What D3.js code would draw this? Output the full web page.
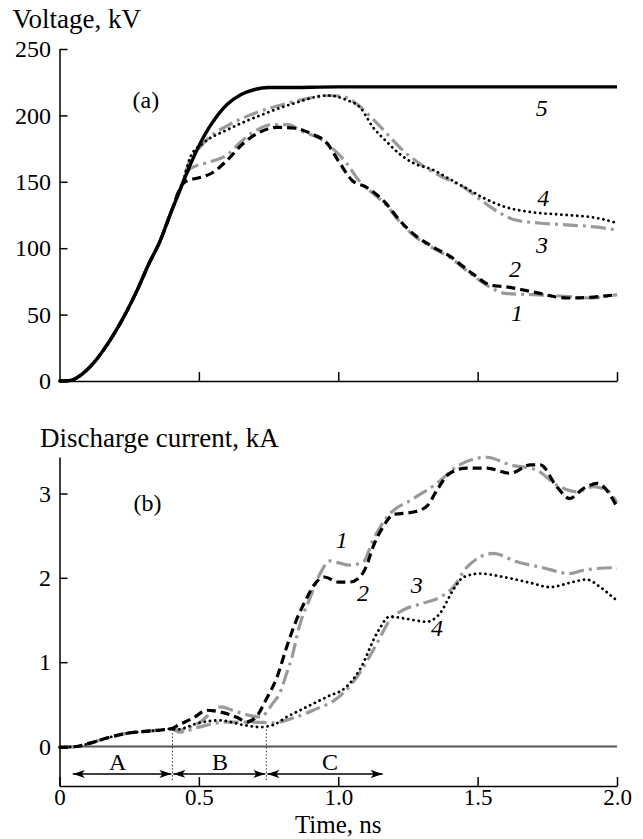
<!DOCTYPE html>
<html>
<head>
<meta charset="utf-8">
<script src="https://cdn.jsdelivr.net/npm/d3@7"></script>
<style>
body { margin: 0; background: #fff; }
svg { display: block; }
svg text { font-family: "Liberation Serif", "Tinos", "Times New Roman", "DejaVu Serif", serif; fill: #000; }
.axis path, .axis line { stroke: #000; stroke-width: 1.5; }
.axis text { font-size: 24px; }
.axis.xb text { font-size: 23px; }
.title { font-size: 27px; }
.title.xt { font-size: 25px; }
.tag { font-size: 24px; }
.num { font-size: 24px; font-style: italic; }
</style>
</head>
<body>
<svg id="chart" width="643" height="839"></svg>
<script>
// ---- data ----
// (a) voltage, kV -- common rise shared by all curves
var tRiseV = [0, 0.04, 0.08, 0.12, 0.16, 0.20, 0.24, 0.28, 0.32, 0.36, 0.40, 0.44];
var vRiseV = [0, 0.5, 5, 13, 24, 37, 52, 69, 88, 105, 127, 148];

var t5V = [0.48, 0.52, 0.56, 0.60, 0.65, 0.70, 0.75, 0.80, 1.0, 1.5, 2.0];
var v5V = [168, 185, 198, 208, 215.5, 219.5, 221, 221, 221.5, 221.5, 221.5];

var t2V = [0.46, 0.50, 0.55, 0.60, 0.66, 0.72, 0.78, 0.84, 0.90, 0.96, 1.0, 1.05, 1.10, 1.17, 1.22, 1.28, 1.34, 1.40, 1.48, 1.55, 1.60, 1.70, 1.82, 1.90, 2.0];
var v2V = [151, 153, 157, 166, 179, 187.5, 191, 190.5, 186.5, 179, 166, 151, 146, 134, 121, 109, 101, 94, 81, 72, 71, 67, 62.5, 63, 65];

var t1V = [0.47, 0.54, 0.60, 0.65, 0.70, 0.76, 0.82, 0.87, 0.93, 1.0, 1.03, 1.07, 1.12, 1.17, 1.22, 1.28, 1.34, 1.40, 1.48, 1.55, 1.60, 1.70, 1.80, 1.90, 2.0];
var v1V = [160, 165, 170, 180, 188, 193, 193, 188, 183, 171, 164, 152, 142, 133, 120, 108, 100, 93, 80, 70, 66, 65, 64, 62.5, 65];

var t4V = [0.47, 0.515, 0.60, 0.72, 0.84, 0.96, 1.03, 1.08, 1.125, 1.17, 1.22, 1.27, 1.34, 1.40, 1.46, 1.52, 1.60, 1.70, 1.82, 1.92, 2.0];
var v4V = [169, 179, 189, 200, 209, 215, 211.6, 205.6, 191, 181, 171, 164, 159, 152, 145, 138, 131, 127, 125, 123, 119];

var t3V = [0.455, 0.50, 0.54, 0.60, 0.68, 0.815, 0.91, 0.97, 1.02, 1.07, 1.13, 1.18, 1.23, 1.29, 1.37, 1.45, 1.52, 1.58, 1.64, 1.72, 1.82, 1.92, 2.0];
var v3V = [159, 175, 184, 192, 200, 209, 213.5, 215, 214, 208, 196, 185, 174, 164, 154, 146, 135, 126.5, 121, 119, 117.5, 116, 113.7];

// (b) discharge current, kA -- common rise
var tRiseI = [0, 0.06, 0.11, 0.17, 0.23, 0.29, 0.36, 0.40];
var vRiseI = [-0.01, 0.0, 0.04, 0.10, 0.15, 0.175, 0.195, 0.21];

var t2I = [0.43, 0.48, 0.53, 0.575, 0.64, 0.67, 0.71, 0.74, 0.78, 0.815, 0.85, 0.887, 0.91, 0.95, 1.0, 1.04, 1.078, 1.10, 1.125, 1.16, 1.197, 1.27, 1.318, 1.354, 1.40, 1.46, 1.533, 1.617, 1.69, 1.725, 1.784, 1.83, 1.88, 1.93, 1.963, 2.0];
var v2I = [0.26, 0.34, 0.43, 0.41, 0.34, 0.29, 0.37, 0.55, 0.82, 1.18, 1.50, 1.76, 1.90, 2.01, 1.95, 1.95, 2.01, 2.13, 2.37, 2.60, 2.75, 2.78, 2.85, 3.04, 3.24, 3.30, 3.30, 3.24, 3.34, 3.34, 3.08, 2.94, 3.06, 3.12, 3.04, 2.84];

var t1I = [0.43, 0.50, 0.58, 0.62, 0.68, 0.72, 0.767, 0.79, 0.815, 0.834, 0.86, 0.90, 0.935, 0.97, 1.0, 1.04, 1.09, 1.125, 1.175, 1.27, 1.354, 1.425, 1.533, 1.617, 1.71, 1.784, 1.856, 1.915, 1.963, 2.0];
var v1I = [0.195, 0.28, 0.47, 0.43, 0.37, 0.35, 0.52, 0.63, 0.87, 1.06, 1.42, 1.77, 2.05, 2.20, 2.18, 2.15, 2.19, 2.45, 2.72, 2.94, 3.12, 3.32, 3.43, 3.34, 3.28, 3.10, 3.02, 3.08, 3.04, 2.89];

var t4I = [0.42, 0.50, 0.575, 0.66, 0.72, 0.766, 0.815, 0.875, 0.96, 1.03, 1.077, 1.14, 1.185, 1.234, 1.318, 1.365, 1.413, 1.45, 1.51, 1.593, 1.69, 1.76, 1.83, 1.89, 1.94, 1.985, 2.0];
var v4I = [0.20, 0.28, 0.31, 0.255, 0.23, 0.255, 0.35, 0.45, 0.59, 0.71, 0.91, 1.35, 1.54, 1.52, 1.48, 1.58, 1.86, 2.01, 2.05, 2.01, 1.94, 1.89, 1.94, 1.98, 1.89, 1.77, 1.73];

var t3I = [0.43, 0.50, 0.60, 0.695, 0.766, 0.84, 0.91, 0.995, 1.05, 1.09, 1.14, 1.185, 1.234, 1.305, 1.365, 1.413, 1.46, 1.557, 1.64, 1.735, 1.83, 1.88, 1.99, 2.0];
var v3I = [0.17, 0.23, 0.29, 0.29, 0.28, 0.34, 0.43, 0.57, 0.75, 0.94, 1.23, 1.50, 1.62, 1.70, 1.77, 1.89, 2.12, 2.29, 2.19, 2.12, 2.05, 2.09, 2.12, 2.11];

// tick labels
var xTicks = [0, 0.5, 1.0, 1.5, 2.0];
var xTickLabels = ["0", "0.5", "1.0", "1.5", "2.0"];
var vTicks = [0, 50, 100, 150, 200, 250];
var iTicks = [0, 1, 2, 3];
var iTickLabels = ["0", "1", "2", "3"];

// curve number labels [name, t, value]
var tagsV = [["5", 1.73, 205.5], ["4", 1.735, 138], ["3", 1.731, 102.4], ["2", 1.634, 85], ["1", 1.641, 51.2]];
var tagsI = [["1", 1.013, 2.45], ["2", 1.089, 1.82], ["3", 1.282, 1.915], ["4", 1.354, 1.406]];

// stages A, B, C on the time axis
var stageNames = ["A", "B", "C"];
var stageBounds = [0.044, 0.405, 0.742, 1.163];
var stageCenters = [0.209, 0.576, 0.97];

// ---- drawing ----
var svg = d3.select("#chart");
svg.append("rect").attr("width", 643).attr("height", 839).attr("fill", "#fff");

var defs = svg.append("defs");
defs.append("marker")
    .attr("id", "arr")
    .attr("markerUnits", "userSpaceOnUse")
    .attr("viewBox", "0 0 12 8")
    .attr("refX", 12).attr("refY", 4)
    .attr("markerWidth", 12).attr("markerHeight", 8)
    .attr("orient", "auto-start-reverse")
  .append("path")
    .attr("d", "M0,0 L12,4 L0,8 L3,4 Z")
    .attr("fill", "#000");

var x = d3.scaleLinear().domain([0, 2]).range([59.5, 617]);
var yV = d3.scaleLinear().domain([0, 250]).range([381, 49]);
var yI = d3.scaleLinear().domain([0, 3]).range([746.5, 493.5]);
var iMin = yI.invert(786), iMax = yI.invert(457);
var yIaxis = d3.scaleLinear().domain([iMin, iMax]).range([786, 457]);

var styles = {
  solid:   {stroke: "#000", width: 3.4, dash: null, cap: "butt"},
  dashed:  {stroke: "#000", width: 3.2, dash: "9,5", cap: "butt"},
  dotted:  {stroke: "#000", width: 2.8, dash: "0.1,5.2", cap: "round"},
  dashdot: {stroke: "#9a9a9a", width: 3.2, dash: "15,5,3,5", cap: "butt"}
};

function zip(ta, va) { return ta.map(function(t, i) { return [t, va[i]]; }); }

function drawCurves(g, yScale, series) {
  var line = d3.line()
      .curve(d3.curveMonotoneX)
      .x(function(d) { return x(d[0]); })
      .y(function(d) { return yScale(d[1]); });
  series.forEach(function(s) {
    var st = styles[s.style];
    g.append("path")
      .datum(s.pts)
      .attr("fill", "none")
      .attr("stroke", st.stroke)
      .attr("stroke-width", st.width)
      .attr("stroke-dasharray", st.dash)
      .attr("stroke-linecap", st.cap)
      .attr("stroke-linejoin", "round")
      .attr("d", line);
  });
}

// ---------- panel (a) ----------
var gA = svg.append("g");
var riseV = zip(tRiseV, vRiseV);
drawCurves(gA, yV, [
  {pts: riseV.concat(zip(t1V, v1V)), style: "dashdot"},
  {pts: riseV.concat(zip(t3V, v3V)), style: "dashdot"},
  {pts: riseV.concat(zip(t2V, v2V)), style: "dashed"},
  {pts: riseV.concat(zip(t4V, v4V)), style: "dotted"},
  {pts: riseV.concat(zip(t5V, v5V)), style: "solid"}
]);

gA.append("g").attr("class", "axis")
  .attr("transform", "translate(0," + yV(0) + ")")
  .call(d3.axisBottom(x).tickValues(xTicks.slice(1)).tickSizeInner(-9).tickSizeOuter(0).tickFormat(""));
gA.append("g").attr("class", "axis")
  .attr("transform", "translate(" + x(0) + ",0)")
  .call(d3.axisLeft(yV).tickValues(vTicks).tickSizeInner(-8).tickSizeOuter(0).tickPadding(8.5));

svg.append("text").attr("class", "title").attr("x", 12.5).attr("y", 28).text("Voltage, kV");
gA.append("text").attr("class", "tag").attr("text-anchor", "middle")
  .attr("x", x(0.31)).attr("y", yV(211.6)).attr("dy", "0.33em").text("(a)");
gA.selectAll(".numV").data(tagsV).enter().append("text")
  .attr("class", "num").attr("text-anchor", "middle")
  .attr("x", function(d) { return x(d[1]); })
  .attr("y", function(d) { return yV(d[2]); })
  .attr("dy", "0.35em")
  .text(function(d) { return d[0]; });

// ---------- panel (b) ----------
var gB = svg.append("g");
gB.append("line")
  .attr("x1", x(0)).attr("x2", x(2))
  .attr("y1", yI(0)).attr("y2", yI(0))
  .attr("stroke", "#555").attr("stroke-width", 2.2);

var riseI = zip(tRiseI, vRiseI);
drawCurves(gB, yI, [
  {pts: riseI.concat(zip(t1I, v1I)), style: "dashdot"},
  {pts: riseI.concat(zip(t3I, v3I)), style: "dashdot"},
  {pts: riseI.concat(zip(t2I, v2I)), style: "dashed"},
  {pts: riseI.concat(zip(t4I, v4I)), style: "dotted"}
]);

// stage boundaries
gB.selectAll(".bound").data(stageBounds.slice(1, 3)).enter().append("line")
  .attr("x1", function(d) { return x(d); }).attr("x2", function(d) { return x(d); })
  .attr("y1", yI(0.2)).attr("y2", yI(-0.41))
  .attr("stroke", "#333").attr("stroke-width", 1).attr("stroke-dasharray", "1.5,2");

// stage arrows
gB.selectAll(".stage").data(stageNames).enter().append("line")
  .attr("x1", function(d, i) { return x(stageBounds[i]) + 1; })
  .attr("x2", function(d, i) { return x(stageBounds[i + 1]) - 1; })
  .attr("y1", yI(-0.326)).attr("y2", yI(-0.326))
  .attr("stroke", "#000").attr("stroke-width", 1.5)
  .attr("marker-start", "url(#arr)").attr("marker-end", "url(#arr)");
gB.selectAll(".stageLabel").data(stageNames).enter().append("text")
  .attr("class", "tag").attr("text-anchor", "middle")
  .attr("x", function(d, i) { return x(stageCenters[i]); })
  .attr("y", yI(-0.18)).attr("dy", "0.35em")
  .text(function(d) { return d; });

gB.append("g").attr("class", "axis xb")
  .attr("transform", "translate(0," + yIaxis(iMin) + ")")
  .call(d3.axisBottom(x).tickValues(xTicks).tickSizeInner(-9).tickSizeOuter(0).tickPadding(2.7)
        .tickFormat(function(d, i) { return xTickLabels[i]; }));
gB.append("g").attr("class", "axis")
  .attr("transform", "translate(" + x(0) + ",0)")
  .call(d3.axisLeft(yIaxis).tickValues(iTicks).tickSizeInner(-8).tickSizeOuter(0).tickPadding(8.5)
        .tickFormat(function(d, i) { return iTickLabels[i]; }));

svg.append("text").attr("class", "title").attr("x", 40).attr("y", 447).text("Discharge current, kA");
svg.append("text").attr("class", "title xt").attr("text-anchor", "middle")
  .attr("x", x(1.0)).attr("y", 833).text("Time, ns");
gB.append("text").attr("class", "tag").attr("text-anchor", "middle")
  .attr("x", x(0.316)).attr("y", yI(2.89)).attr("dy", "0.33em").text("(b)");
gB.selectAll(".numI").data(tagsI).enter().append("text")
  .attr("class", "num").attr("text-anchor", "middle")
  .attr("x", function(d) { return x(d[1]); })
  .attr("y", function(d) { return yI(d[2]); })
  .attr("dy", "0.35em")
  .text(function(d) { return d[0]; });
</script>
</body>
</html>
